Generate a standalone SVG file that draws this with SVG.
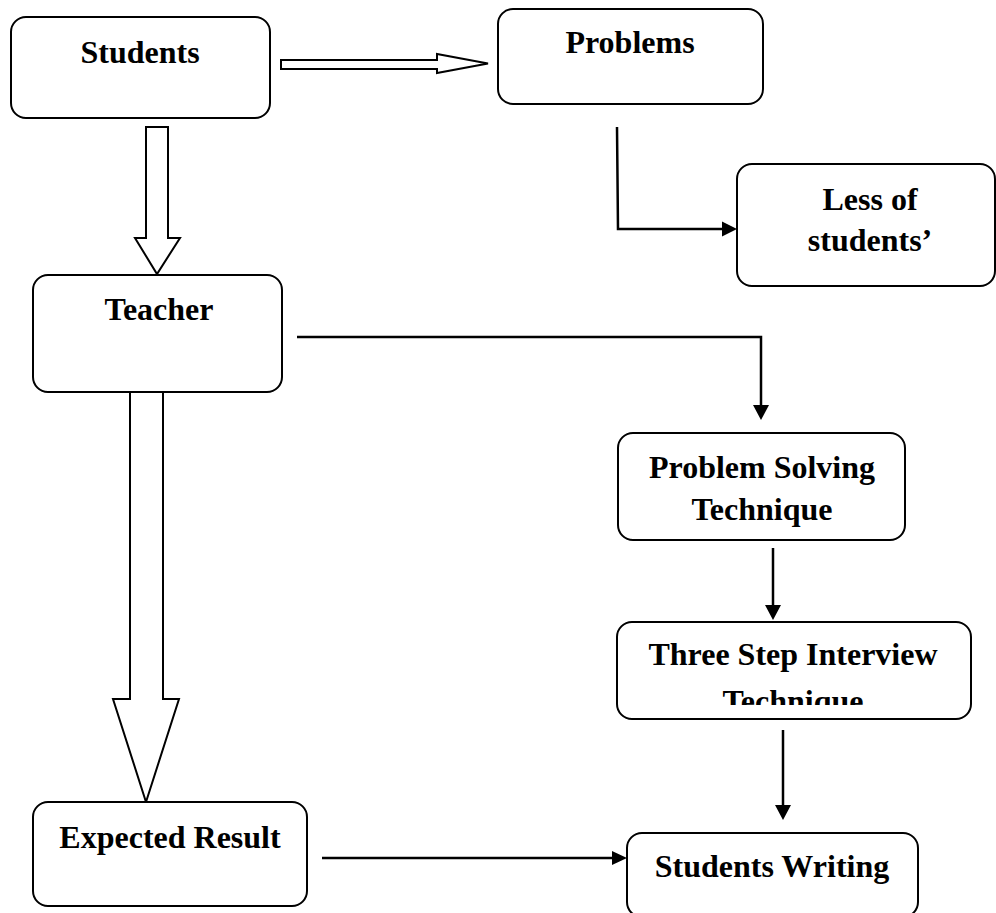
<svg xmlns="http://www.w3.org/2000/svg" width="996" height="913" viewBox="0 0 996 913">
<style>
.box{fill:#fff;stroke:#000;stroke-width:2}
.lbl{font-family:"Liberation Serif","Times New Roman",serif;font-weight:bold;font-size:32px;fill:#000;text-anchor:middle}
.hollow{fill:#fff;stroke:#000;stroke-width:2;stroke-linejoin:miter}
.line{fill:none;stroke:#000;stroke-width:2.5}
.head{fill:#000;stroke:none}
</style>
<defs>
<clipPath id="clipTS"><rect x="617" y="622" width="354" height="83"/></clipPath>
</defs>
<rect width="996" height="913" fill="#fff"/>
<g id="connectors">
<polygon class="hollow" points="281,60 437,60 437,54 488,63.5 437,73 437,69 281,69"/>
<polygon class="hollow" points="146,127 168,127 168,238 180,238 157,274 135,238 146,238"/>
<polygon class="hollow" points="130,392 163,392 163,699 179,699 146,802 113,699 130,699"/>
<path class="line" d="M617,127 L618,229 L723,229"/>
<polygon class="head" points="722,221.5 737,229 722,236.5"/>
<path class="line" d="M297,337 L761,337 L761,406"/>
<polygon class="head" points="753,405 769,405 761,420"/>
<path class="line" d="M773,548 L773,606"/>
<polygon class="head" points="765,605 781,605 773,620"/>
<path class="line" d="M783,730 L783,806"/>
<polygon class="head" points="775,805 791,805 783,820"/>
<path class="line" d="M322,858 L613,858"/>
<polygon class="head" points="612,851 627,858 612,865"/>
</g>
<g id="students">
<rect class="box" x="11" y="17" width="259" height="101" rx="15"/>
<text class="lbl" x="140" y="63">Students</text>
</g>
<g id="problems">
<rect class="box" x="498" y="9" width="265" height="95" rx="15"/>
<text class="lbl" x="630" y="53">Problems</text>
</g>
<g id="less">
<rect class="box" x="737" y="164" width="258" height="122" rx="15"/>
<text class="lbl" x="870" y="210">Less of</text>
<text class="lbl" x="870" y="251">students’</text>
</g>
<g id="teacher">
<rect class="box" x="33" y="275" width="249" height="117" rx="15"/>
<text class="lbl" x="159" y="320">Teacher</text>
</g>
<g id="problem-solving">
<rect class="box" x="618" y="433" width="287" height="107" rx="15"/>
<text class="lbl" x="762" y="478">Problem Solving</text>
<text class="lbl" x="762" y="520">Technique</text>
</g>
<g id="three-step">
<rect class="box" x="617" y="622" width="354" height="97" rx="15"/>
<text class="lbl" x="793" y="665">Three Step Interview</text>
<text class="lbl" x="793" y="712" clip-path="url(#clipTS)">Technique</text>
</g>
<g id="expected">
<rect class="box" x="33" y="802" width="274" height="104" rx="15"/>
<text class="lbl" x="170" y="848">Expected Result</text>
</g>
<g id="writing">
<rect class="box" x="627" y="833" width="291" height="84" rx="15"/>
<text class="lbl" x="772" y="877">Students Writing</text>
</g>
</svg>
